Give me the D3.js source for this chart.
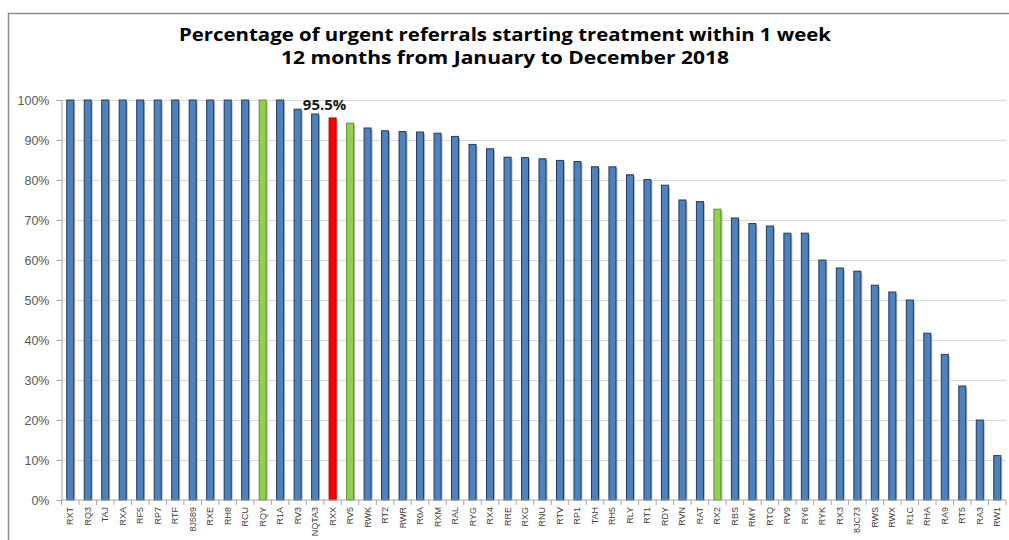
<!DOCTYPE html>
<html>
<head>
<meta charset="utf-8">
<script src="https://cdn.jsdelivr.net/npm/d3@7"></script>
<style>
  body { margin: 0; background: #fff; }
  svg { display: block; }
</style>
</head>
<body>
<script>
// trusts, sorted by value as in the source chart
const trusts = ["RXT","RQ3","TAJ","RXA","RF5","RP7","RTF","8J589","RXE","RH8","RCU","RQY","R1A","RV3","NQTA3",
  "RXX","RV5","RWK","RT2","RWR","R0A","RXM","RAL","RYG","RX4","RRE","RXG","RNU","RTV","RP1","TAH","RH5","RLY",
  "RT1","RDY","RVN","RAT","RX2","RBS","RMY","RTQ","RV9","RY6","RYK","RX3","8JC73","RWS","RWX","R1C","RHA",
  "RA9","RT5","RA3","RW1"];
const pct = [100,100,100,100,100,100,100,100,100,100,100,100,100,97.7,96.5,
  95.5,94.2,93.0,92.3,92.1,92.0,91.7,90.9,88.9,87.8,85.7,85.6,85.3,84.9,84.6,83.3,83.3,81.3,
  80.1,78.7,75.0,74.6,72.7,70.5,69.1,68.5,66.7,66.7,60.0,58.0,57.2,53.7,52.0,50.0,41.7,
  36.4,28.5,20.0,11.1];
const highlightGreen = ["RQY","RV5","RX2"];
const highlightRed = ["RXX"];
const yTicks = [0,10,20,30,40,50,60,70,80,90,100];
const titleLines = ["Percentage of urgent referrals starting treatment within 1 week",
  "12 months from January to December 2018"];

const width = 1009, height = 540;
const margin = {top: 100, right: 3, bottom: 40, left: 61.5};

const svg = d3.select("body").append("svg")
    .attr("width", width)
    .attr("height", height);

// outer frame
svg.append("rect")
    .attr("x", 8.5).attr("y", 13.5)
    .attr("width", 1010).attr("height", 540)
    .attr("fill", "none")
    .attr("stroke", "#8c8c8c")
    .attr("stroke-width", 1.5);

svg.append("g")
  .selectAll("text")
  .data(titleLines)
  .join("text")
    .attr("x", 505)
    .attr("y", (d, i) => 41 + i * 23)
    .attr("text-anchor", "middle")
    .attr("font-family", "'Open Sans', sans-serif")
    .attr("font-weight", "bold")
    .attr("font-size", 17)
    .attr("textLength", (d, i) => i === 0 ? 652 : 448)
    .attr("lengthAdjust", "spacingAndGlyphs")
    .attr("fill", "#000")
    .text(d => d);

const x = d3.scaleBand()
    .domain(trusts)
    .range([margin.left, width - margin.right])
    .paddingInner(0.6)
    .paddingOuter(0.3);

const y = d3.scaleLinear()
    .domain([0, 100])
    .range([height - margin.bottom, margin.top]);

// gridlines
svg.append("g")
    .attr("stroke", "#d9d9d9")
  .selectAll("line")
  .data(yTicks.filter(d => d > 0))
  .join("line")
    .attr("x1", margin.left)
    .attr("x2", width - margin.right)
    .attr("y1", d => Math.round(y(d)) + 0.5)
    .attr("y2", d => Math.round(y(d)) + 0.5);

// y axis
const yAxis = svg.append("g")
    .attr("transform", `translate(${margin.left},0)`)
    .call(d3.axisLeft(y).tickValues(yTicks).tickFormat(d => d + "%").tickSize(5).tickPadding(7));
yAxis.select(".domain").attr("stroke", "#a6a6a6");
yAxis.selectAll(".tick line").attr("stroke", "#a6a6a6");
yAxis.selectAll(".tick text")
    .attr("font-family", "'Liberation Sans', Arial, sans-serif")
    .attr("font-size", 12.5)
    .attr("fill", "#595959");

// bars (with a soft shadow like the original)
const colorOf = t => highlightRed.includes(t) ? "#ff0000" : highlightGreen.includes(t) ? "#92d050" : "#4f81bd";
const strokeOf = t => highlightRed.includes(t) ? "#b00000" : highlightGreen.includes(t) ? "#5f8f2a" : "#1f3a60";

svg.append("g")
    .attr("fill", "#b8b8b8")
  .selectAll("rect")
  .data(trusts)
  .join("rect")
    .attr("x", d => x(d) + 1.5)
    .attr("y", (d, i) => y(pct[i]) + 1.5)
    .attr("width", x.bandwidth())
    .attr("height", (d, i) => y(0) - y(pct[i]) - 1.5);

svg.append("g")
  .selectAll("rect")
  .data(trusts)
  .join("rect")
    .attr("x", d => x(d))
    .attr("y", (d, i) => y(pct[i]))
    .attr("width", x.bandwidth())
    .attr("height", (d, i) => y(0) - y(pct[i]))
    .attr("fill", d => colorOf(d))
    .attr("stroke", d => strokeOf(d))
    .attr("stroke-width", 1);

// x axis
const step = x.step();
const xAxis = svg.append("g")
    .attr("transform", `translate(0,${y(0)})`);
xAxis.append("line")
    .attr("x1", margin.left).attr("x2", width - margin.right)
    .attr("stroke", "#a6a6a6");
xAxis.selectAll("line.tk")
  .data(d3.range(trusts.length + 1))
  .join("line")
    .attr("class", "tk")
    .attr("x1", i => margin.left + i * step)
    .attr("x2", i => margin.left + i * step)
    .attr("y1", 0).attr("y2", 5)
    .attr("stroke", "#a6a6a6");
xAxis.selectAll("text")
  .data(trusts)
  .join("text")
    .attr("transform", d => `translate(${x(d) + x.bandwidth() / 2 + 3},7) rotate(-90)`)
    .attr("text-anchor", "end")
    .attr("font-family", "'Liberation Sans Narrow', 'Liberation Sans', Arial, sans-serif")
    .attr("font-size", 9)
    .attr("fill", "#404040")
    .text(d => d);

// data label on the red bar
const redIdx = trusts.indexOf(highlightRed[0]);
svg.append("text")
    .attr("x", x(highlightRed[0]) + x.bandwidth() / 2 - 8)
    .attr("y", y(pct[redIdx]) - 8)
    .attr("text-anchor", "middle")
    .attr("font-family", "'Open Sans', sans-serif")
    .attr("font-weight", "bold")
    .attr("font-size", 15)
    .attr("fill", "#1a1a1a")
    .text(pct[redIdx].toFixed(1) + "%");
</script>
</body>
</html>
